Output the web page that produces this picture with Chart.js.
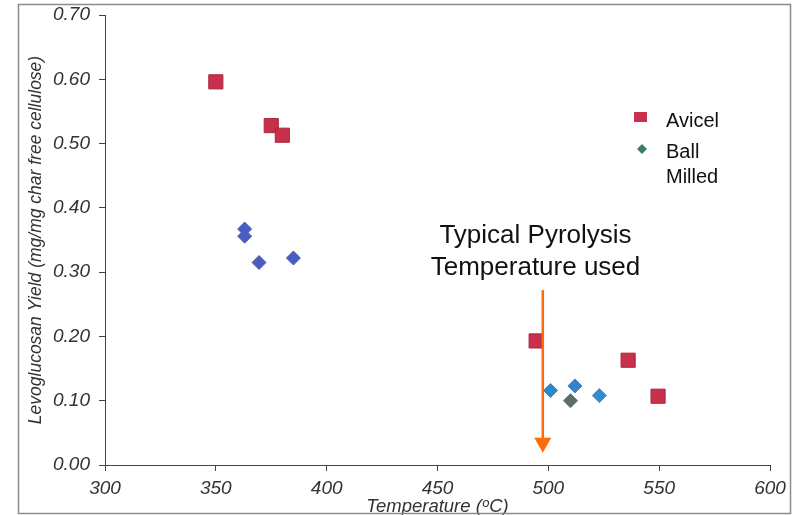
<!DOCTYPE html>
<html>
<head>
<meta charset="utf-8">
<script src="https://cdn.jsdelivr.net/npm/chart.js@4"></script>
<style>
  html, body { margin: 0; padding: 0; background: #fff; }
  #wrap { width: 800px; height: 515px; }
</style>
</head>
<body>
<div id="wrap"><canvas id="yieldChart" width="800" height="515"></canvas></div>
<script>
// data
const avicelTemp = [350, 375, 380, 494.5, 536, 549.5];
const avicelYield = [0.596, 0.528, 0.513, 0.193, 0.163, 0.107];
const milledTemp = [363, 363, 369.5, 385, 501, 512, 510, 523];
const milledYield = [0.367, 0.356, 0.315, 0.322, 0.116, 0.123, 0.100, 0.108];
const xTicks = [300, 350, 400, 450, 500, 550, 600];
const yTicks = [0, 0.1, 0.2, 0.3, 0.4, 0.5, 0.6, 0.7];
const arrowTemp = 497.5;
const arrowFrom = 0.272;
const arrowTo = 0.019;

// point colours of the milled series differ a bit in the figure
const milledColors = ['#4a5ec0', '#4a5ec0', '#4a5cbc', '#4a5cbc', '#2f86c9', '#3a80c6', '#5d6c6c', '#2f8cce'];

const fontFam = 'Arial, "Liberation Sans", sans-serif';

function toPoints(xs, ys) {
    return xs.map((x, i) => ({ x: x, y: ys[i] }));
}

// frame, legend and the arrow note
const extras = {
    id: 'extras',
    afterDraw(chart) {
        const ctx = chart.ctx;
        const xs = chart.scales.x;
        const ys = chart.scales.y;
        ctx.save();

        // outer frame
        ctx.strokeStyle = '#8c8c8c';
        ctx.lineWidth = 1.5;
        ctx.strokeRect(18.5, 4.5, 772, 509);

        // legend
        ctx.fillStyle = '#c8304c';
        ctx.fillRect(634, 112, 13, 10);
        ctx.fillStyle = '#3d7a70';
        ctx.beginPath();
        ctx.moveTo(642, 144);
        ctx.lineTo(647, 149);
        ctx.lineTo(642, 154);
        ctx.lineTo(637, 149);
        ctx.closePath();
        ctx.fill();
        ctx.fillStyle = '#111';
        ctx.font = '20px ' + fontFam;
        ctx.textBaseline = 'alphabetic';
        ctx.textAlign = 'left';
        ctx.fillText('Avicel', 666, 127);
        ctx.fillText('Ball', 666, 158);
        ctx.fillText('Milled', 666, 183);

        // note text
        ctx.font = '26px ' + fontFam;
        ctx.textAlign = 'center';
        ctx.fillText('Typical Pyrolysis', 535.5, 243);
        ctx.fillText('Temperature used', 535.5, 275);

        // arrow
        const ax = xs.getPixelForValue(arrowTemp);
        const y0 = ys.getPixelForValue(arrowFrom);
        const y1 = ys.getPixelForValue(arrowTo);
        ctx.strokeStyle = '#ff6a0e';
        ctx.fillStyle = '#ff6a0e';
        ctx.lineWidth = 2.5;
        ctx.beginPath();
        ctx.moveTo(ax, y0);
        ctx.lineTo(ax, y1 - 12);
        ctx.stroke();
        ctx.beginPath();
        ctx.moveTo(ax - 8.5, y1 - 15);
        ctx.lineTo(ax + 8.5, y1 - 15);
        ctx.lineTo(ax, y1);
        ctx.closePath();
        ctx.fill();
        ctx.restore();
    }
};

const ctx = document.getElementById('yieldChart').getContext('2d');
const yieldChart = new Chart(ctx, {
    type: 'scatter',
    data: {
        datasets: [{
            label: 'Avicel',
            data: toPoints(avicelTemp, avicelYield),
            pointStyle: 'rect',
            pointRadius: 10,
            backgroundColor: '#c8304c',
            borderColor: '#a82840',
            borderWidth: 1
        }, {
            label: 'Ball Milled',
            data: toPoints(milledTemp, milledYield),
            pointStyle: 'rectRot',
            pointRadius: 7,
            backgroundColor: milledColors,
            borderColor: milledColors,
            borderWidth: 1
        }]
    },
    options: {
        responsive: false,
        animation: false,
        layout: { padding: { left: 18, top: 15, right: 30, bottom: 0 } },
        plugins: {
            legend: { display: false },
            tooltip: { enabled: false }
        },
        scales: {
            x: {
                type: 'linear',
                min: 300,
                max: 600,
                afterBuildTicks: (s) => { s.ticks = xTicks.map(v => ({ value: v })); },
                afterFit: (s) => { s.height = 50; s.paddingLeft = 0; s.paddingRight = 0; },
                ticks: {
                    color: '#333',
                    padding: 6,
                    font: { family: fontFam, size: 19, style: 'italic' }
                },
                grid: { display: true, drawOnChartArea: false, drawTicks: true, tickLength: 6, color: '#444' },
                border: { color: '#444', width: 1 },
                title: {
                    display: true,
                    text: 'Temperature (ᵒC)',
                    color: '#333',
                    padding: { top: 0, bottom: -3 },
                    font: { family: fontFam, size: 18.5, style: 'italic' }
                }
            },
            y: {
                type: 'linear',
                min: 0,
                max: 0.7,
                afterBuildTicks: (s) => { s.ticks = yTicks.map(v => ({ value: v })); },
                afterFit: (s) => { s.width = 87; s.paddingTop = 0; s.paddingBottom = 0; },
                ticks: {
                    color: '#333',
                    padding: 9,
                    font: { family: fontFam, size: 19, style: 'italic' },
                    callback: (v) => v.toFixed(2)
                },
                grid: { display: true, drawOnChartArea: false, drawTicks: true, tickLength: 6, color: '#444' },
                border: { color: '#444', width: 1 },
                title: {
                    display: true,
                    text: 'Levoglucosan Yield (mg/mg char free cellulose)',
                    color: '#333',
                    padding: { top: 8, bottom: 0 },
                    font: { family: fontFam, size: 17.5, style: 'italic' }
                }
            }
        }
    },
    plugins: [extras]
});
</script>
</body>
</html>
